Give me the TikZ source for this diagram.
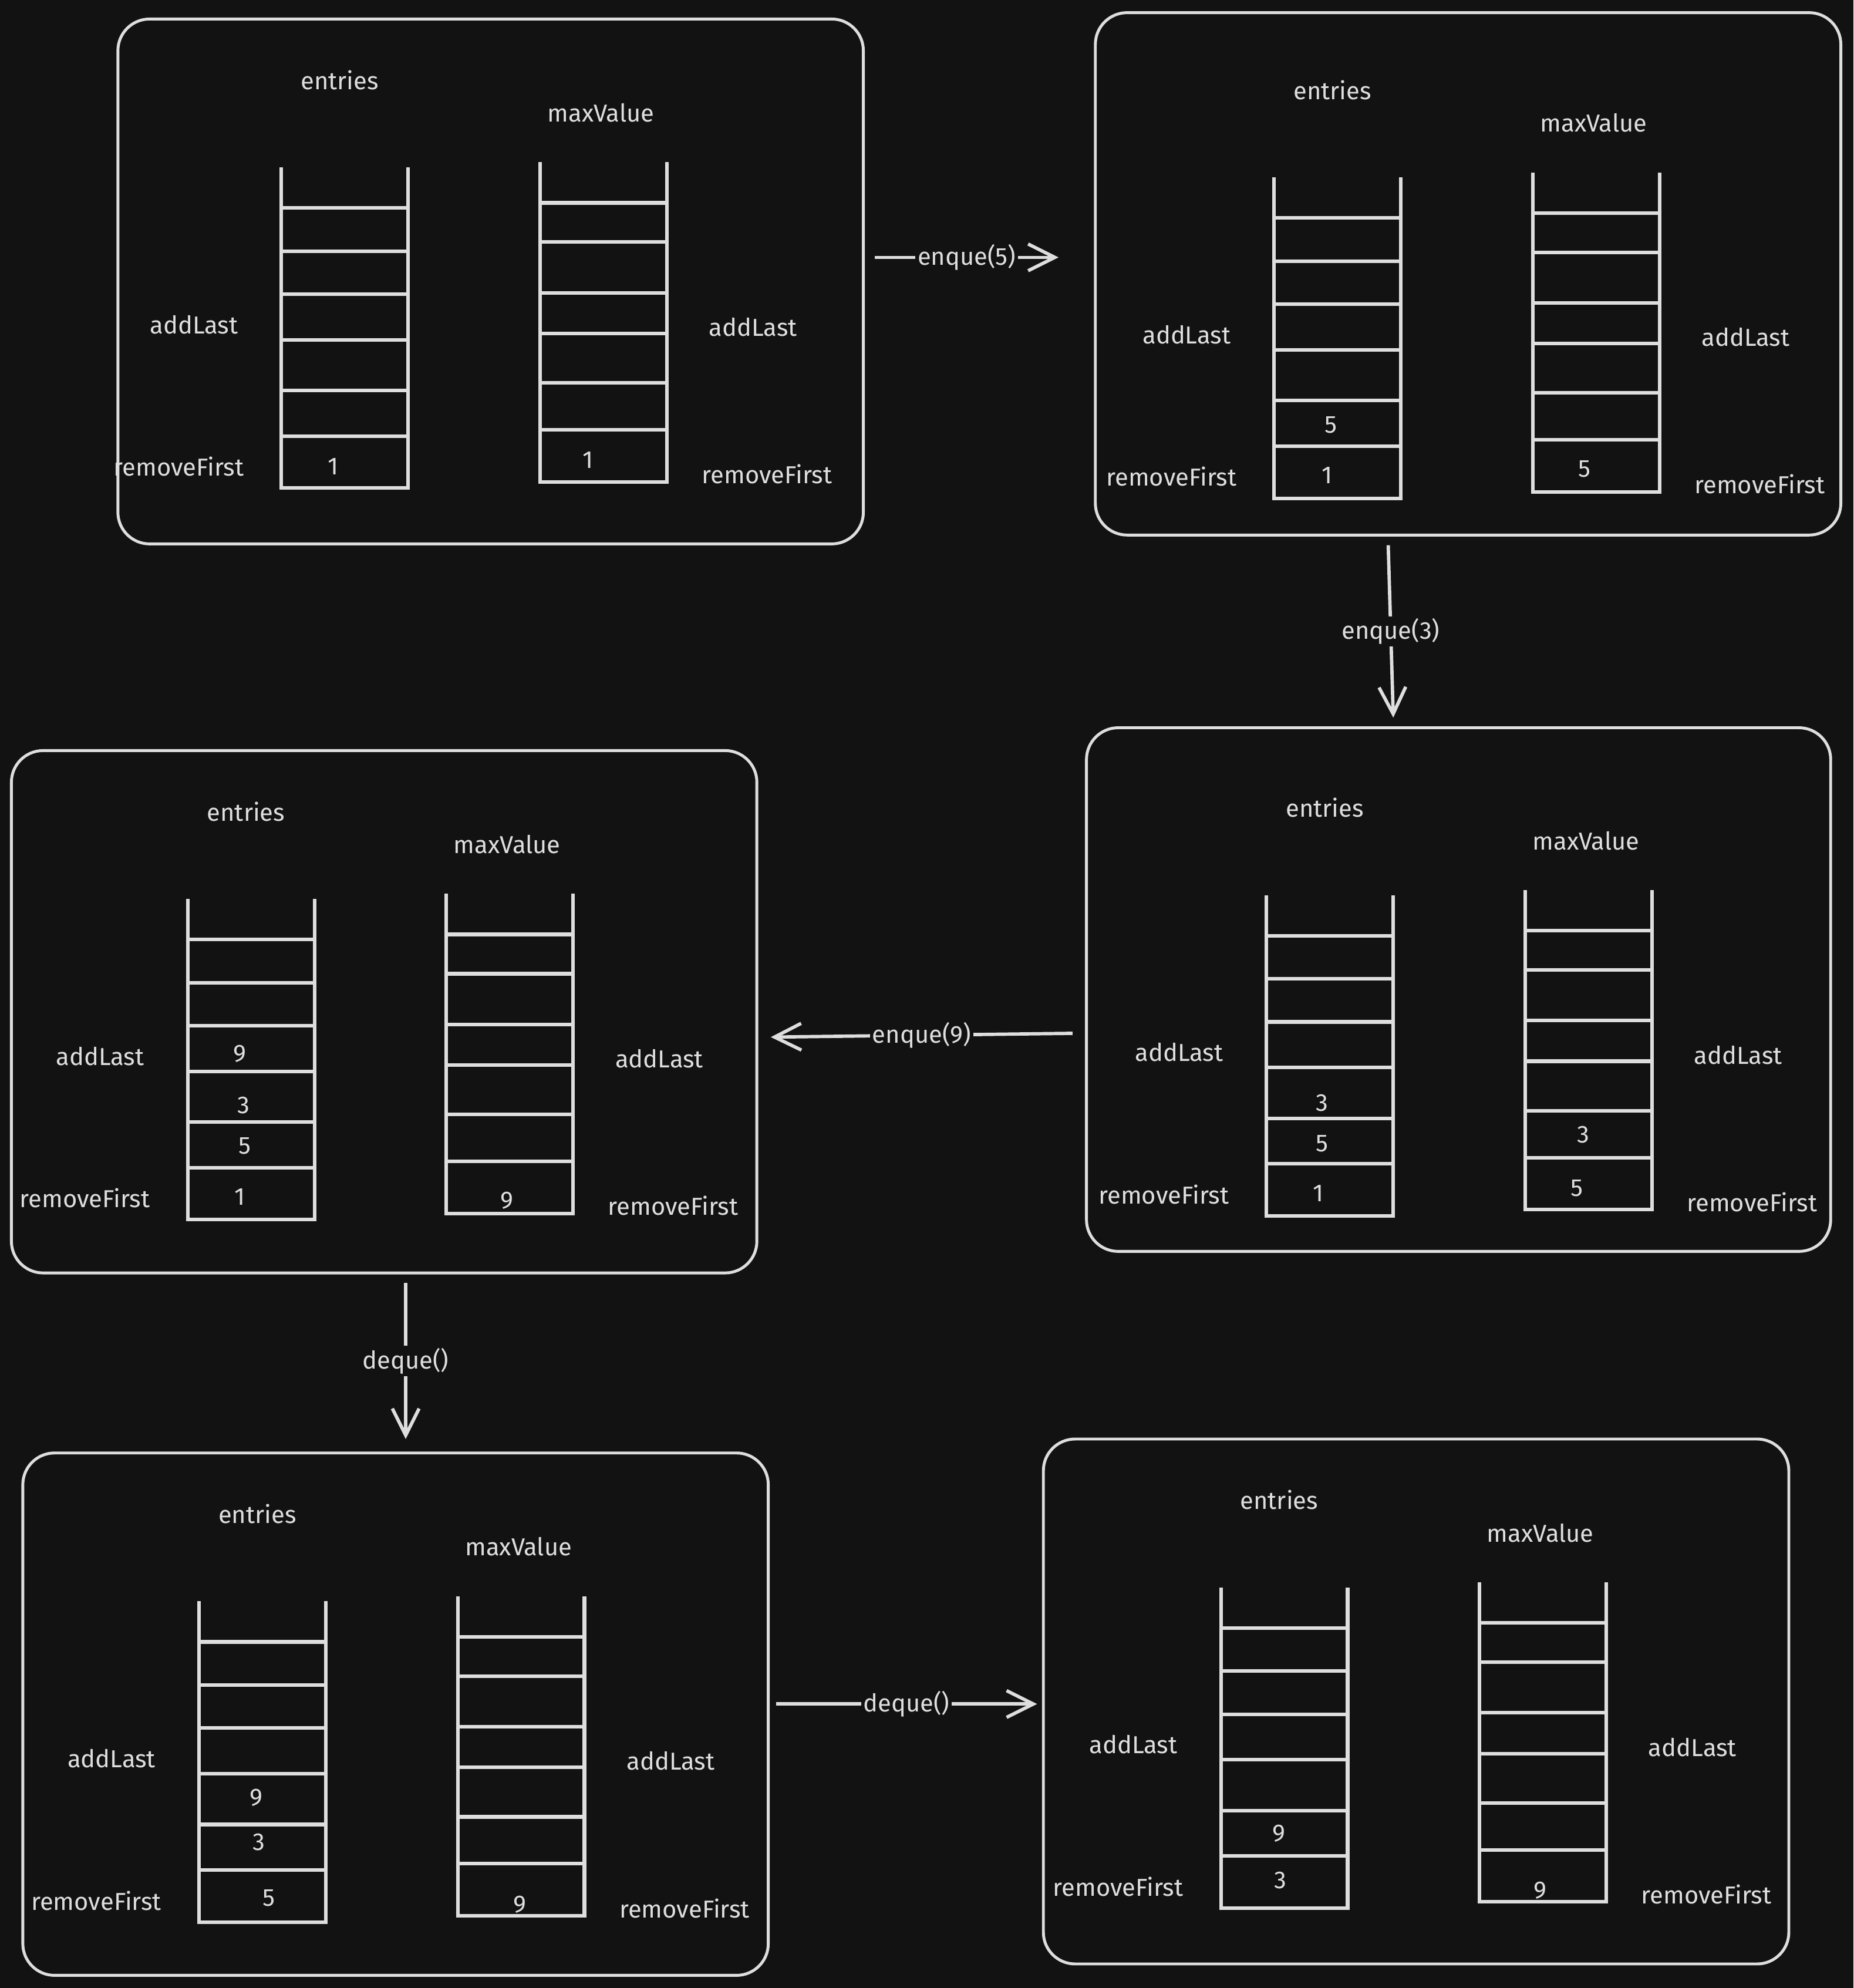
\documentclass[tikz,border=0pt]{standalone}
\usepackage{fontspec}
\setmainfont{Fira Sans}
\usetikzlibrary{arrows.meta, fit}
\definecolor{bg}{HTML}{121212}
\definecolor{ink}{HTML}{DEDEDE}
\tikzset{x=0.02cm, y=-0.02cm,
  panel/.style={draw=ink, line width=1.3pt, rounded corners=0.5cm, inner sep=0pt},
  rail/.style={draw=ink, line width=1.6pt},
  lbl/.style={text=ink, inner sep=0pt, font=\fontsize{11}{13}\selectfont},
  flow/.style={draw=ink, line width=1.5pt, -{Straight Barb[length=12pt, width=12pt]}},
  tag/.style={lbl, fill=bg, inner sep=1pt}}
% one state: box, two stacks, their labels and values
\newcommand{\qpanel}[5]{%
  \node[panel, fit={#2}] (#1) {};
  \begin{scope}[shift={(#3)}]
    \draw[rail] (0,-253) -- (0,0) -- (100,0) -- (100,-253);
    \foreach \h in {41,77,117,153,187,221}
      \draw[rail] (0,-\h) -- (100,-\h);
    \draw[rail] (204,-257) -- (204,-5) -- (304,-5) -- (304,-257);
    \foreach \h in {46,83,122,154,194,225}
      \draw[rail] (204,-\h) -- (304,-\h);
    \node[lbl] (#1-ent) at (46,-322) {entries};
    \node[lbl] (#1-max) at (252,-296) {maxValue};
    \node[lbl] (#1-al) at (-69,-129) {addLast};
    \node[lbl] (#1-rf) at (-81,-17) {removeFirst};
    \node[lbl] (#1-ar) at (372,-127) {addLast};
    \node[lbl] (#1-rr) at (383,-11) {removeFirst};
    \foreach \vx/\vy/\vv [count=\i] in {#4}
      \node[lbl] (#1-e\i) at (\vx,\vy) {\vv};
    \foreach \vx/\vy/\vv [count=\i] in {#5}
      \node[lbl] (#1-m\i) at (\vx,\vy) {\vv};
  \end{scope}}

\begin{document}
\begin{tikzpicture}
	\fill[bg] (0,0) rectangle (1462,1568);
	\useasboundingbox (0,0) rectangle (1462,1568);

	\qpanel{p1}{(93,15) (681,429)}{222,385}{41/-17/1}{242/-22/1}
	\qpanel{p2}{(864,10) (1452,422)}{1005,393}{45/-58/5, 42/-18/1}{245/-23/5}
	\qpanel{p3}{(857,574) (1444,987)}{999,959}{44/-89/3, 44/-57/5, 41/-18/1}{250/-64/3, 245/-22/5}
	\qpanel{p4}{(9,592) (597,1004)}{148,962}{41/-131/9, 44/-90/3, 45/-58/5, 41/-18/1}{252/-15/9}
	\qpanel{p5}{(18,1146) (606,1558)}{157,1516}{45/-98/9, 47/-63/3, 55/-19/5}{253/-14/9}
	\qpanel{p6}{(823,1135) (1411,1549)}{963,1505}{46/-59/9, 47/-22/3}{252/-14/9}

	\coordinate (a1) at (690,203);  \coordinate (b1) at (835,203);
	\coordinate (a2) at (1095,430); \coordinate (b2) at (1099,566);
	\coordinate (a3) at (846,815);  \coordinate (b3) at (608,818);
	\coordinate (a4) at (320,1012); \coordinate (b4) at (320,1135);
	\coordinate (a5) at (612,1344); \coordinate (b5) at (818,1344);

	\draw[flow] (a1) -- node[tag] (t1) {enque(5)} (b1);
	\draw[flow] (a2) -- node[tag] (t2) {enque(3)} (b2);
	\draw[flow] (a3) -- node[tag] (t3) {enque(9)} (b3);
	\draw[flow] (a4) -- node[tag] (t4) {deque()} (b4);
	\draw[flow] (a5) -- node[tag] (t5) {deque()} (b5);
\end{tikzpicture}
\end{document}
